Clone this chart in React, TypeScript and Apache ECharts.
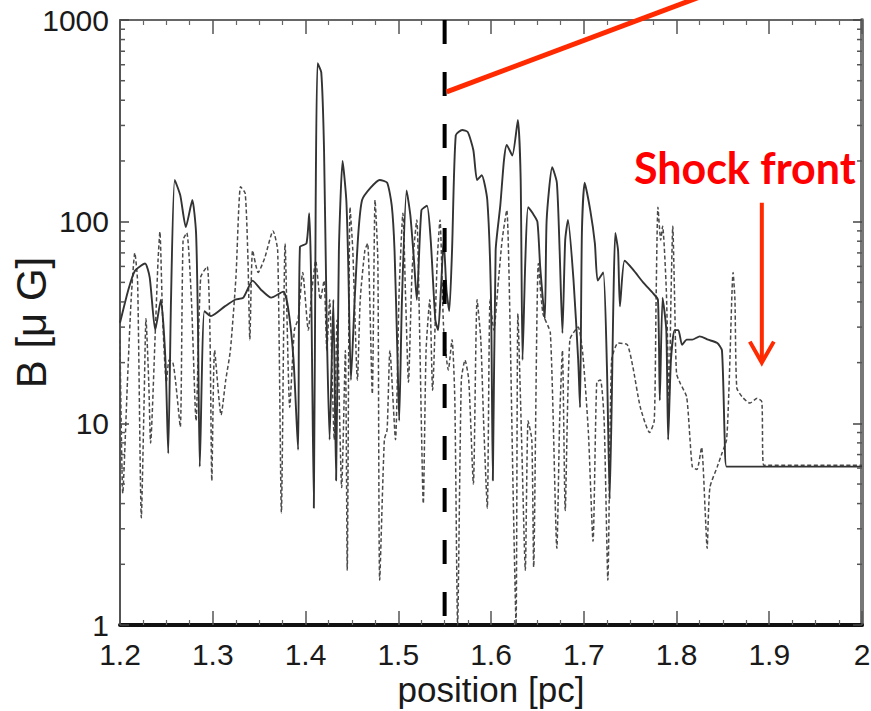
import React, { useEffect, useRef } from "react";
import * as echarts from "echarts";

const xTicks = [1.2, 1.3, 1.4, 1.5, 1.6, 1.7, 1.8, 1.9, 2];
const yTicks = [1, 10, 100, 1000];
const yMinorTicks = [2, 3, 4, 5, 6, 7, 8, 9, 20, 30, 40, 50, 60, 70, 80, 90, 200, 300, 400, 500, 600, 700, 800, 900];

const solidPos = [1.200,1.209,1.216,1.227,1.232,1.238,1.244,1.249,1.252,1.255,1.259,1.265,1.271,1.278,1.282,1.284,1.286,1.291,1.298,1.313,1.324,1.333,1.343,1.352,1.363,1.376,1.381,1.387,1.392,1.394,1.401,1.404,1.406,1.409,1.411,1.413,1.417,1.420,1.423,1.426,1.430,1.433,1.436,1.440,1.444,1.446,1.449,1.453,1.457,1.461,1.470,1.480,1.488,1.493,1.496,1.499,1.501,1.504,1.509,1.513,1.517,1.520,1.525,1.531,1.535,1.540,1.543,1.546,1.549,1.552,1.555,1.558,1.562,1.569,1.575,1.581,1.585,1.590,1.596,1.600,1.602,1.605,1.610,1.614,1.617,1.623,1.629,1.632,1.634,1.637,1.640,1.645,1.650,1.653,1.658,1.660,1.666,1.671,1.674,1.677,1.680,1.683,1.689,1.694,1.696,1.698,1.701,1.707,1.712,1.715,1.721,1.725,1.728,1.732,1.734,1.737,1.739,1.744,1.753,1.764,1.775,1.780,1.782,1.785,1.789,1.791,1.794,1.798,1.802,1.806,1.811,1.817,1.825,1.834,1.844,1.849,1.852,1.854,2.000];
const solidB = [31.5,46,57,62,53,29,41,20.6,7.1,41,161,135,94,128,88,32,6.1,36,34,38,41,42,51,46,42,45,38,21,7.4,75,78,110,53,3.8,128,610,550,226,29,8.3,41,5.2,72,200,128,64,16.4,41,88,128,147,161,156,120,72,23,10.3,41,143,108,64,41,114,120,81,32.5,29,46,81,46,36,72,268,285,278,226,161,170,128,41,5.2,72,120,202,240,213,319,161,20.6,64,118,110,100,60,33,102,186,156,72,28,81,102,51,20.6,12,88,156,114,78,51,56,19,4.2,41,88,72,38,64,58,50,44,41,13,42,29,8.3,20.6,29,29,24.5,26,26,27,26,25,23,8.3,6.1,6.1];

const dashedPos = [1.200,1.203,1.208,1.212,1.216,1.219,1.223,1.226,1.228,1.231,1.233,1.238,1.241,1.243,1.246,1.250,1.253,1.257,1.260,1.265,1.268,1.272,1.277,1.282,1.287,1.294,1.297,1.299,1.302,1.309,1.314,1.319,1.325,1.330,1.335,1.338,1.340,1.343,1.349,1.356,1.365,1.370,1.374,1.378,1.383,1.388,1.392,1.397,1.403,1.407,1.411,1.416,1.420,1.423,1.426,1.431,1.434,1.439,1.443,1.445,1.448,1.451,1.456,1.459,1.464,1.467,1.472,1.475,1.478,1.480,1.485,1.488,1.491,1.497,1.501,1.505,1.508,1.511,1.515,1.520,1.523,1.527,1.530,1.534,1.537,1.542,1.545,1.549,1.554,1.558,1.561,1.564,1.568,1.572,1.576,1.581,1.585,1.589,1.592,1.596,1.599,1.603,1.608,1.612,1.617,1.620,1.624,1.627,1.629,1.633,1.637,1.640,1.644,1.646,1.651,1.656,1.664,1.671,1.674,1.677,1.680,1.685,1.694,1.699,1.705,1.710,1.714,1.718,1.722,1.726,1.730,1.737,1.747,1.753,1.761,1.771,1.776,1.778,1.780,1.783,1.785,1.789,1.792,1.794,1.796,1.798,1.800,1.804,1.811,1.817,1.822,1.827,1.831,1.833,1.836,1.844,1.849,1.854,1.857,1.861,1.863,1.865,1.871,1.879,1.887,1.892,1.894,2.000];
const dashedB = [26,4.5,16,41,70,50,3.4,13,33,16,8,28,64,89,33,16,20.6,20,16,9.6,81,88,41,10.3,53,60,28,5.2,23,11,16.4,23,53,149,138,64,26,72,56,66,90,72,3.6,78,12,29,33,56,29,46,64,41,51,23,41,8.3,32.5,4.8,23,1.87,118,72,16.4,41,72,78,14,128,64,1.67,8.3,9.3,23,8.3,46,110,41,16,58,102,29,4,23,41,14.6,64,102,29,18.4,26,13,1.0,16.4,20.6,16.4,5,41,26,10.3,3.8,41,29,51,81,114,41,4.2,1.0,35,8.3,1.87,10.3,8.3,1.94,62,35,28,2.4,10.3,23,3.7,26,30,22,9,2.6,16,16.4,10.3,1.67,20.6,25,24.5,19,12,9,10.3,41,118,81,95,46,13,41,95,41,17.7,15.8,13.5,6.1,5.9,7.6,3.6,2.4,4.8,6.1,7.1,8.3,17,56,41,15,13.5,12.6,13.3,12.8,6.2,6.2];

const markerPos = 1.55;
const arrowFromB = 440;
const shockPos = 1.892;
const shockTipB = 20;
const shockLabel = "Shock front";

export default function App() {
  const ref = useRef<HTMLDivElement>(null);
  useEffect(() => {
    const el = ref.current!;
    const chart = echarts.init(el, null, { renderer: "svg" });
    const font = "'Liberation Sans', Arial, Helvetica, sans-serif";
    const labelColor = "#1a1a1a";
    const xMin = xTicks[0], xMax = xTicks[xTicks.length - 1];
    const yMin = yTicks[0], yMax = yTicks[yTicks.length - 1];

    const commonX = {
      type: "value", min: xMin, max: xMax, interval: 0.1,
      splitLine: { show: false },
      axisTick: { show: true, inside: true, length: 14, lineStyle: { color: "#555", width: 1.5 } },
      minorTick: { show: true, splitNumber: 4, length: 5, lineStyle: { color: "#666", width: 1.2 } },
    };
    const commonY = {
      type: "log", logBase: 10, min: yMin, max: yMax,
      splitLine: { show: false },
      minorTick: { show: false },
      axisTick: { show: true, inside: true, length: 9, lineStyle: { color: "#444", width: 1.5 } },
    };

    chart.setOption({
      animation: false,
      backgroundColor: "#ffffff",
      grid: { left: 120, right: 9, top: 20, bottom: 86, containLabel: false, outerBoundsMode: "none" },
      xAxis: [
        {
          ...commonX, position: "bottom",
          name: "position [pc]", nameLocation: "middle", nameGap: 49, nameMoveOverlap: false,
          nameTextStyle: { fontSize: 35, lineHeight: 30, color: labelColor, fontFamily: font },
          axisLine: { show: true, onZero: false, lineStyle: { color: "#111", width: 4 } },
          axisLabel: {
            fontSize: 30, lineHeight: 22, color: labelColor, fontFamily: font, margin: 18,
            formatter: (v: number) => String(Math.round(v * 10) / 10),
          },
        },
        {
          ...commonX, position: "top",
          axisLine: { show: true, onZero: false, lineStyle: { color: "#666", width: 2 } },
          axisLabel: { show: false },
        },
      ],
      yAxis: [
        {
          ...commonY, position: "left",
          name: "B [μ G]", nameLocation: "middle", nameRotate: 90, nameGap: 68, nameMoveOverlap: false,
          nameTextStyle: { fontSize: 42, color: labelColor, fontFamily: font },
          axisLine: { show: true, onZero: false, lineStyle: { color: "#555", width: 2 } },
          axisLabel: {
            fontSize: 30, lineHeight: 22, color: labelColor, fontFamily: font, margin: 11,
            formatter: (v: number) => String(Math.round(v)),
          },
        },
        {
          ...commonY, position: "right",
          axisLine: { show: true, onZero: false, lineStyle: { color: "#777", width: 4 } },
          axisLabel: { show: false },
        },
      ],
      series: [
        {
          name: "dashed", type: "line", xAxisIndex: 0, yAxisIndex: 0,
          data: dashedPos.map((p, i) => [p, dashedB[i]]),
          showSymbol: false, symbol: "none", smooth: 0.2,
          lineStyle: { color: "#4a4a4a", width: 1.5, type: [4, 2.5] },
          z: 2,
        },
        {
          name: "solid", type: "line", xAxisIndex: 0, yAxisIndex: 0,
          data: solidPos.map((p, i) => [p, solidB[i]]),
          showSymbol: false, symbol: "none", smooth: 0.2,
          lineStyle: { color: "#333", width: 1.9 },
          z: 3,
        },
        {
          name: "marker", type: "line", xAxisIndex: 0, yAxisIndex: 0,
          data: [[markerPos, yMax], [markerPos, yMin]],
          showSymbol: false, symbol: "none",
          lineStyle: { color: "#000", width: 4, type: [24, 28] },
          z: 5,
        },
        {
          name: "yMinorTicks", type: "custom", xAxisIndex: 0, yAxisIndex: 0,
          data: yMinorTicks.map((v) => [xMin, v]),
          encode: { x: 0, y: 1 }, silent: true, clip: false, z: 6,
          renderItem: (_params: any, api: any) => {
            const p = api.coord([xMin, api.value(1)]);
            const q = api.coord([xMax, api.value(1)]);
            return {
              type: "group",
              children: [
                { type: "line", shape: { x1: p[0], y1: p[1], x2: p[0] + 5, y2: p[1] }, style: { stroke: "#555", lineWidth: 1.5 } },
                { type: "line", shape: { x1: q[0] - 5, y1: q[1], x2: q[0], y2: q[1] }, style: { stroke: "#555", lineWidth: 1.5 } },
              ],
            };
          },
        },
      ],
    });

    const a = chart.convertToPixel({ gridIndex: 0 }, [markerPos, arrowFromB]) as number[];
    const tip = chart.convertToPixel({ gridIndex: 0 }, [shockPos, shockTipB]) as number[];
    const red = "#ff2a00";
    chart.setOption({
      graphic: [
        { type: "line", shape: { x1: a[0] + 2, y1: a[1], x2: a[0] + 258, y2: a[1] - 96 }, style: { stroke: red, lineWidth: 5 }, z: 10 },
        { type: "line", shape: { x1: tip[0], y1: tip[1] - 160, x2: tip[0], y2: tip[1] - 2 }, style: { stroke: red, lineWidth: 4 }, z: 10 },
        { type: "polyline", shape: { points: [[tip[0] - 12, tip[1] - 21], [tip[0], tip[1]], [tip[0] + 12, tip[1] - 21]] }, style: { stroke: red, lineWidth: 4, fill: "none" }, z: 10 },
        {
          type: "text", x: tip[0] - 17, y: tip[1] - 195, z: 10,
          style: { text: shockLabel, fill: "#ff0000", font: "bold 43px Lato, 'Open Sans', sans-serif", align: "center", verticalAlign: "middle" },
        },
      ],
    });

    return () => chart.dispose();
  }, []);

  return <div ref={ref} style={{ position: "absolute", left: 0, top: 0, width: 871, height: 711 }} />;
}
